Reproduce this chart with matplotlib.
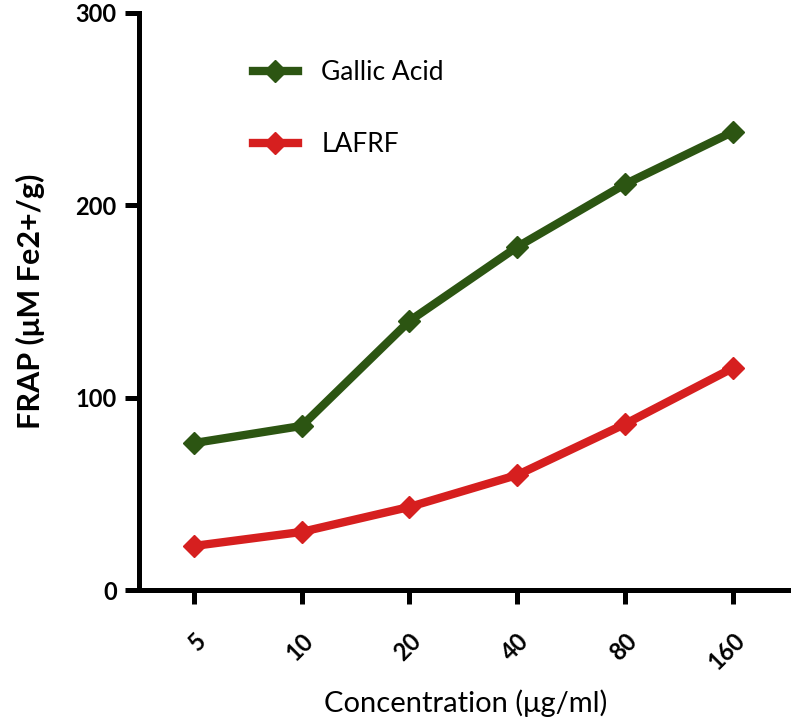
import matplotlib
matplotlib.use("Agg")
import matplotlib.pyplot as plt
from matplotlib.lines import Line2D

concentrations = ["5", "10", "20", "40", "80", "160"]
gallic_acid = [76.4, 85.3, 139.9, 178.4, 211.0, 238.2]
lafrf = [22.9, 30.2, 43.2, 59.8, 86.3, 115.4]
yticks = [0, 100, 200, 300]

green = "#2c5512"
red = "#d61f1f"

plt.rcParams['font.family'] = ['Lato', 'DejaVu Sans']

fig = plt.figure(figsize=(7.91, 7.22), dpi=100)
ax = fig.add_axes([139/791, 132/722, 1 - 139/791, (590-13)/722])

x = list(range(len(concentrations)))
ax.plot(x, gallic_acid, color=green, lw=6, marker='D', ms=11, solid_capstyle='butt')
ax.plot(x, lafrf, color=red, lw=6, marker='D', ms=11, solid_capstyle='butt')

ax.set_xlim(-0.51, 5.54)
ax.set_ylim(0, 300)
ax.set_yticks(yticks)
ax.set_yticklabels([str(v) for v in yticks], fontsize=17, fontweight='bold')
ax.set_xticks(x)
ax.set_xticklabels(concentrations, fontsize=17, fontweight='bold', rotation=45,
                   ha='right', va='top', rotation_mode='anchor')

for s in ['top', 'right']:
    ax.spines[s].set_visible(False)
for s in ['left', 'bottom']:
    ax.spines[s].set_linewidth(3.6)
ax.tick_params(axis='both', length=10, width=3.6, direction='out', pad=6)
ax.tick_params(axis='x', pad=18)

ax.set_ylabel("FRAP (μM Fe2+/g)", fontsize=22, fontweight='bold', labelpad=22)
ax.set_xlabel("Concentration (μg/ml)", fontsize=21)
ax.xaxis.set_label_coords((466 - 139) / (791 - 139), (590 - 703) / (590 - 13))
ax.xaxis.label.set_va('center')

handles = [Line2D([], [], color=green, lw=6, marker='D', ms=11),
           Line2D([], [], color=red, lw=6, marker='D', ms=11)]
leg = ax.legend(handles, ["Gallic Acid", "LAFRF"], loc='upper left',
                bbox_to_anchor=(0.138, 0.96), frameon=False, fontsize=19,
                handlelength=1.7, labelspacing=1.8, handletextpad=0.9)

fig.savefig("out.png", dpi=100)
